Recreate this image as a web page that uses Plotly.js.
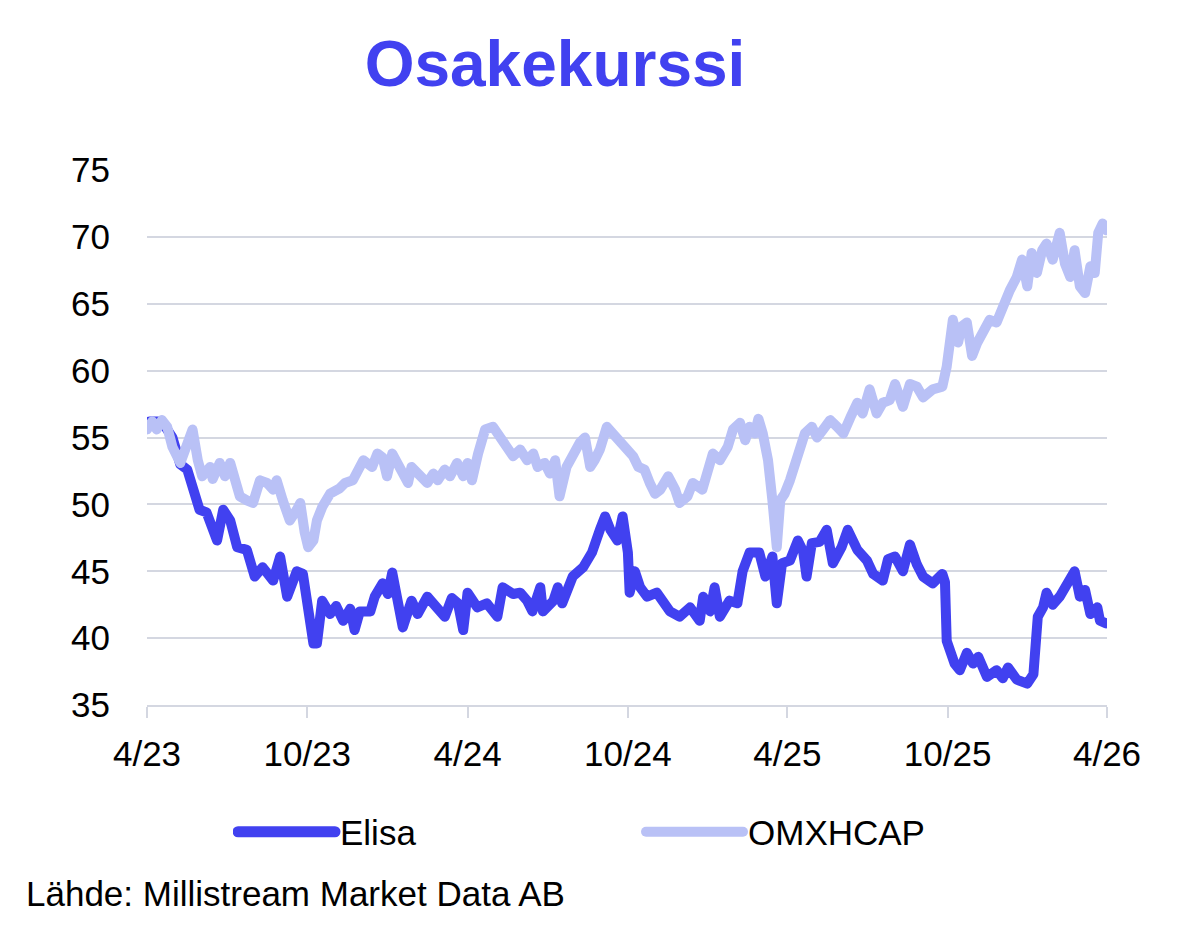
<!DOCTYPE html>
<html>
<head>
<meta charset="utf-8">
<script src="https://cdn.plot.ly/plotly-3.0.1.min.js"></script>
<style>
  html, body { margin: 0; padding: 0; background: #ffffff; }
  #chart { width: 1200px; height: 942px; }
  .js-line { stroke-linejoin: round; stroke-linecap: round; }
  .legend .js-line { stroke-width: 11px !important; stroke-linecap: round; }
</style>
</head>
<body>
<div id="chart"></div>
<script>
// ---- Data ----
var elisaDates = [
  "2023-04-01","2023-04-04","2023-04-14","2023-04-21","2023-04-30","2023-05-09","2023-05-17","2023-05-26","2023-05-31",
  "2023-06-08","2023-06-14","2023-06-20","2023-06-27","2023-07-05","2023-07-13","2023-07-24","2023-08-02","2023-08-11",
  "2023-08-23","2023-08-31","2023-09-08","2023-09-14","2023-09-19","2023-09-26","2023-10-02","2023-10-08","2023-10-12",
  "2023-10-18","2023-10-27","2023-11-03","2023-11-11","2023-11-19","2023-11-24","2023-11-30","2023-12-12","2023-12-17",
  "2023-12-26","2024-01-01","2024-01-06","2024-01-11","2024-01-18","2024-01-28","2024-02-04","2024-02-15","2024-02-26",
  "2024-03-06","2024-03-14","2024-03-21","2024-03-27","2024-04-01","2024-04-12","2024-04-23","2024-05-05","2024-05-11",
  "2024-05-23","2024-05-31","2024-06-08","2024-06-14","2024-06-23","2024-06-26","2024-07-08","2024-07-13","2024-07-18",
  "2024-07-23","2024-07-30","2024-08-11","2024-08-21","2024-08-30","2024-09-05","2024-09-11","2024-09-19","2024-09-25",
  "2024-10-01","2024-10-03","2024-10-09","2024-10-15","2024-10-23","2024-11-03","2024-11-10","2024-11-18","2024-11-29",
  "2024-12-11","2024-12-22","2024-12-26","2025-01-03","2025-01-08","2025-01-14","2025-01-25","2025-02-03","2025-02-09",
  "2025-02-17","2025-02-28","2025-03-07","2025-03-15","2025-03-20","2025-03-26","2025-04-04","2025-04-13","2025-04-19",
  "2025-04-23","2025-04-29","2025-05-08","2025-05-16","2025-05-23","2025-06-02","2025-06-09","2025-06-20","2025-07-01",
  "2025-07-08","2025-07-19","2025-07-25","2025-08-02","2025-08-11","2025-08-19","2025-08-27","2025-09-03","2025-09-14",
  "2025-09-25","2025-09-28","2025-09-30","2025-10-09","2025-10-15","2025-10-23","2025-10-30","2025-11-05","2025-11-15",
  "2025-11-26","2025-12-03","2025-12-09","2025-12-19","2025-12-31","2026-01-07","2026-01-12","2026-01-18","2026-01-22",
  "2026-01-29","2026-02-06","2026-02-14","2026-02-23","2026-03-01","2026-03-07","2026-03-13","2026-03-21","2026-03-24",
  "2026-03-31"
];
var elisaValues = [
  55.8,56.2,56.2,55.9,55.0,53.0,52.6,51.0,49.6,
  49.4,48.5,47.3,49.6,48.8,46.8,46.6,44.6,45.3,
  44.3,46.1,43.1,44.5,45.0,44.8,41.6,39.6,39.6,
  42.8,41.8,42.4,41.3,42.2,40.6,42.0,42.0,43.1,
  44.1,43.3,44.9,42.8,40.8,42.8,41.8,43.1,42.3,
  41.6,43.0,42.6,40.6,43.4,42.3,42.6,41.6,43.8,
  43.3,43.4,42.8,42.0,43.8,42.0,42.8,43.8,42.6,
  43.6,44.6,45.3,46.4,48.1,49.1,48.1,47.3,49.1,
  46.4,43.4,45.0,43.8,43.1,43.4,42.8,42.0,41.6,
  42.3,41.3,43.1,42.0,43.8,41.6,42.8,42.6,45.0,
  46.4,46.4,44.6,46.1,42.6,45.6,45.8,47.3,46.5,
  44.6,47.1,47.2,48.1,45.6,46.8,48.1,46.6,45.8,
  44.8,44.3,45.9,46.1,45.0,47.0,45.5,44.6,44.1,
  44.8,44.2,39.8,38.1,37.6,38.9,38.1,38.6,37.1,
  37.6,37.0,37.8,36.9,36.6,37.3,41.6,42.3,43.4,
  42.5,43.1,44.1,45.0,43.1,43.6,41.8,42.3,41.3,
  41.1
];

var omxDates = [
  "2023-04-01","2023-04-07","2023-04-12","2023-04-18","2023-04-24","2023-04-30","2023-05-09","2023-05-17","2023-05-23",
  "2023-05-29","2023-06-03","2023-06-12","2023-06-15","2023-06-23","2023-06-29","2023-07-05","2023-07-13","2023-07-16",
  "2023-07-24","2023-07-31","2023-08-08","2023-08-16","2023-08-23","2023-08-27","2023-09-03","2023-09-11","2023-09-19",
  "2023-09-23","2023-09-28","2023-10-02","2023-10-08","2023-10-12","2023-10-18","2023-10-27","2023-11-07","2023-11-13",
  "2023-11-22","2023-11-27","2023-12-04","2023-12-14","2023-12-20","2023-12-26","2023-12-31","2024-01-06","2024-01-15",
  "2024-01-24","2024-01-28","2024-02-07","2024-02-15","2024-02-22","2024-02-27","2024-03-06","2024-03-12","2024-03-20",
  "2024-03-27","2024-04-01","2024-04-06","2024-04-13","2024-04-21","2024-04-30","2024-05-08","2024-05-16","2024-05-23",
  "2024-05-31","2024-06-08","2024-06-15","2024-06-20","2024-06-28","2024-07-04","2024-07-10","2024-07-15","2024-07-23",
  "2024-07-30","2024-08-07","2024-08-13","2024-08-19","2024-08-24","2024-08-30","2024-09-07","2024-09-14","2024-09-22",
  "2024-09-30","2024-10-07","2024-10-13","2024-10-20","2024-10-26","2024-11-01","2024-11-07","2024-11-16","2024-11-24",
  "2024-11-29","2024-12-08","2024-12-14","2024-12-25","2024-12-30","2025-01-06","2025-01-14","2025-01-23","2025-01-29",
  "2025-02-06","2025-02-12","2025-02-17","2025-02-23","2025-02-27","2025-03-04","2025-03-10","2025-03-15","2025-03-18",
  "2025-03-20","2025-03-24","2025-03-29","2025-04-04","2025-04-10","2025-04-15","2025-04-21","2025-04-29","2025-05-05",
  "2025-05-12","2025-05-20","2025-05-28","2025-06-04","2025-06-12","2025-06-20","2025-06-26","2025-07-04","2025-07-12",
  "2025-07-19","2025-07-27","2025-08-02","2025-08-11","2025-08-19","2025-08-27","2025-09-03","2025-09-14","2025-09-25",
  "2025-09-30","2025-10-04","2025-10-07","2025-10-13","2025-10-17","2025-10-23","2025-10-29","2025-11-04","2025-11-10",
  "2025-11-18","2025-11-26","2025-12-03","2025-12-11","2025-12-19","2025-12-25","2025-12-31","2026-01-05","2026-01-11",
  "2026-01-17","2026-01-22","2026-01-29","2026-02-06","2026-02-12","2026-02-18","2026-02-23","2026-03-01","2026-03-07",
  "2026-03-13","2026-03-18","2026-03-22","2026-03-27","2026-03-31"
];
var omxValues = [
  55.6,56.2,55.6,56.3,55.8,54.3,53.1,54.5,55.6,
  53.3,52.1,52.8,51.9,53.1,52.1,53.1,51.6,50.6,
  50.3,50.1,51.8,51.6,51.1,51.8,50.3,48.8,49.6,
  50.1,47.9,46.8,47.3,48.8,49.8,50.8,51.2,51.6,
  51.8,52.6,53.3,52.8,53.8,53.5,52.1,53.8,52.8,
  51.6,52.8,52.1,51.6,52.3,51.8,52.6,52.1,53.1,
  52.1,53.1,51.8,53.8,55.6,55.8,55.0,54.3,53.6,
  54.1,53.3,53.8,52.8,53.1,52.3,53.3,50.6,52.8,
  53.8,54.6,55.0,52.8,53.3,54.1,55.8,55.3,54.8,
  54.3,53.6,52.8,52.6,51.6,50.8,51.1,52.1,51.1,
  50.1,50.6,51.6,51.1,52.3,53.8,53.3,54.3,55.6,
  56.1,54.8,55.8,55.3,56.4,55.3,53.3,50.3,47.1,
  46.8,50.3,50.8,51.8,53.1,53.8,55.3,55.8,55.0,
  55.6,56.3,55.8,55.3,56.5,57.6,56.8,58.6,56.8,
  57.6,57.8,59.0,57.3,59.0,58.8,58.0,58.6,58.8,
  60.3,62.3,63.8,62.1,63.3,63.6,61.1,62.1,63.0,
  63.8,63.6,64.8,66.0,67.0,68.3,66.3,68.8,67.3,
  69.0,69.5,68.3,70.3,68.0,67.0,69.0,66.3,65.8,
  67.8,67.3,70.3,71.0,70.5
];

var tickDates  = ["2023-04-01","2023-10-01","2024-04-01","2024-10-01","2025-04-01","2025-10-01","2026-04-01"];
var tickLabels = ["4/23","10/23","4/24","10/24","4/25","10/25","4/26"];
var yTicks = [35, 40, 45, 50, 55, 60, 65, 70, 75];

// ---- Styles ----
var ELISA = "#4141f0";
var OMX = "#b9c1f6";
var GRID = "#d4d7e1";
var FONT = "Liberation Sans, Arial, sans-serif";

var traces = [
  { x: elisaDates, y: elisaValues, name: "Elisa", type: "scatter", mode: "lines",
    line: { color: ELISA, width: 10 }, hoverinfo: "skip", legend: "legend" },
  { x: omxDates, y: omxValues, name: "OMXHCAP", type: "scatter", mode: "lines",
    line: { color: OMX, width: 10 }, hoverinfo: "skip", legend: "legend2" }
];

function legendAt(px) {
  return {
    orientation: "h",
    xref: "container", yref: "container",
    x: px / 1200, xanchor: "left",
    y: 1 - 832 / 942, yanchor: "middle",
    itemwidth: 97,
    font: { family: FONT, size: 35, color: "#000000" },
    bgcolor: "rgba(0,0,0,0)"
  };
}

var layout = {
  width: 1200, height: 942,
  paper_bgcolor: "#ffffff", plot_bgcolor: "#ffffff",
  margin: { l: 147, r: 93, t: 170, b: 237 },
  font: { family: FONT, size: 35, color: "#000000" },
  title: {
    text: "<b>Osakekurssi</b>",
    font: { family: FONT, size: 64, color: ELISA },
    xref: "container", yref: "container",
    x: 0.4625, xanchor: "center",
    y: 1 - 64 / 942, yanchor: "middle"
  },
  xaxis: {
    type: "date",
    range: ["2023-04-01", "2026-04-01"],
    tickvals: tickDates, ticktext: tickLabels,
    showgrid: false, zeroline: false,
    showline: true, linecolor: GRID, linewidth: 2,
    ticks: "outside", ticklen: 11, tickwidth: 2, tickcolor: GRID,
    ticklabelstandoff: 6,
    tickfont: { family: FONT, size: 35, color: "#000000" }
  },
  yaxis: {
    range: [35, 75],
    tickvals: yTicks,
    showgrid: true, gridcolor: GRID, gridwidth: 2,
    zeroline: false, showline: false, ticks: "",
    ticklabelstandoff: 36,
    tickfont: { family: FONT, size: 35, color: "#000000" }
  },
  showlegend: true,
  legend: legendAt(233),
  legend2: legendAt(641),
  annotations: [
    { text: "Lähde: Millistream Market Data AB", xref: "paper", yref: "paper",
      x: (24 - 147) / 960, y: (705 - 893) / 535, xanchor: "left", yanchor: "middle",
      showarrow: false, font: { family: FONT, size: 35, color: "#000000" } }
  ]
};

Plotly.newPlot("chart", traces, layout, { staticPlot: true, displayModeBar: false });
</script>
</body>
</html>
